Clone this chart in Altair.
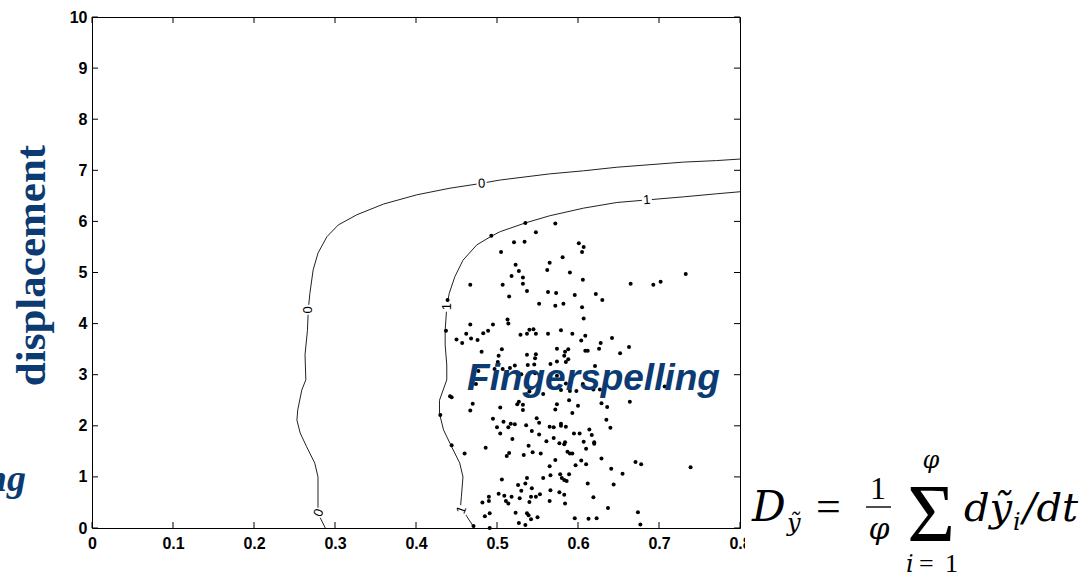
import altair as alt
import pandas as pd

# ---------------- data ----------------
pts_x = [0.535,0.572,0.493,0.548,0.521,0.534,0.601,0.607,0.605,0.505,
         0.581,0.565,0.523,0.562,0.527,0.590,0.518,0.532,0.606,0.467,
         0.507,0.532,0.537,0.563,0.573,0.596,0.515,0.439,0.552,0.572,
         0.582,0.605,0.607,0.513,0.514,0.467,0.495,0.437,0.489,0.483,
         0.462,0.468,0.450,0.457,0.476,0.529,0.537,0.540,0.545,0.548,
         0.563,0.579,0.593,0.609,0.604,0.481,0.506,0.502,0.537,0.548,
         0.547,0.574,0.588,0.584,0.583,0.588,0.585,0.609,0.612,0.501,
         0.522,0.538,0.546,0.566,0.574,0.477,0.516,0.507,0.497,0.530,
         0.547,0.574,
         0.733,0.665,0.693,0.702,0.622,0.630,0.642,0.628,0.626,0.663,0.652,0.621,
         0.474,0.540,0.557,0.579,0.590,0.598,0.585,0.619,0.627,0.707,0.606,
         0.442,0.444,0.470,0.467,0.504,0.527,0.525,0.532,0.532,0.589,
         0.574,0.572,0.600,0.593,0.430,0.495,0.508,0.500,0.504,0.514,
         0.517,0.522,0.536,0.549,0.552,0.543,0.552,0.565,0.570,0.579,
         0.585,0.579,0.570,0.577,0.584,0.583,0.595,0.602,0.607,0.610,
         0.561,0.519,0.539,0.544,0.554,0.587,0.590,0.593,0.444,0.460,
         0.486,0.515,0.512,0.533,0.572,0.597,0.604,0.610,0.565,0.506,
         0.537,0.557,0.566,0.578,0.589,0.580,0.583,0.586,0.612,0.526,
         0.535,0.543,0.530,0.502,0.509,0.518,0.528,0.542,0.548,0.553,
         0.566,0.577,0.583,0.490,0.490,0.482,0.511,0.514,0.540,0.565,
         0.584,0.485,0.491,0.523,0.537,0.539,0.550,0.527,0.542,0.535,
         0.471,0.491,0.596,0.613,
         0.629,0.636,0.664,0.635,0.640,0.614,0.617,0.620,0.620,0.629,
         0.671,0.678,0.739,0.641,0.655,0.644,0.619,0.637,0.674,0.623,0.677]
pts_y = [5.97,5.96,5.72,5.79,5.59,5.60,5.57,5.50,5.40,5.40,
         5.30,5.19,5.15,5.05,5.03,5.00,4.93,4.90,4.86,4.76,
         4.76,4.78,4.64,4.62,4.60,4.56,4.53,4.46,4.39,4.35,
         4.39,4.32,4.10,4.08,4.00,3.98,3.98,3.86,3.86,3.81,
         3.80,3.71,3.69,3.62,3.68,3.78,3.80,3.88,3.89,3.80,
         3.80,3.87,3.80,3.76,3.67,3.45,3.50,3.37,3.39,3.40,
         3.32,3.51,3.50,3.45,3.37,3.30,3.25,3.47,3.47,3.25,
         3.18,3.19,3.20,3.21,3.26,3.07,3.13,3.11,3.11,3.01,
         3.03,2.98,
         4.97,4.78,4.76,4.82,4.58,4.46,3.72,3.62,3.51,3.54,3.42,3.17,
         2.82,2.67,2.62,2.70,2.68,2.68,2.83,2.71,2.71,2.77,2.82,
         2.58,2.56,2.43,2.30,2.36,2.47,2.42,2.41,2.31,2.50,
         2.42,2.32,2.39,2.25,2.21,2.14,2.08,1.97,1.85,1.97,
         2.04,2.03,2.01,2.15,2.06,1.90,1.83,1.98,1.97,2.00,
         1.98,2.04,1.76,1.66,1.68,1.64,1.85,1.85,1.69,1.55,
         1.70,1.74,1.61,1.48,1.46,1.49,1.46,1.46,1.62,1.46,
         1.57,1.47,1.41,1.43,1.33,1.23,1.32,1.25,1.21,0.95,
         0.98,0.98,1.03,1.05,1.05,0.98,0.94,0.92,0.87,0.84,
         0.87,0.78,0.73,0.67,0.63,0.61,0.58,0.61,0.61,0.66,
         0.74,0.70,0.65,0.61,0.53,0.50,0.53,0.48,0.51,0.53,
         0.48,0.23,0.29,0.30,0.29,0.25,0.21,0.10,0.17,0.06,
         0.04,0.00,0.19,0.18,
         2.44,2.37,2.47,2.12,1.96,1.93,1.82,1.68,1.65,1.36,
         1.29,1.25,1.19,1.16,1.06,0.85,0.60,0.39,0.31,0.19,0.07]

c0_x = [0.288,0.279,0.279,0.275,0.265,0.257,0.253,0.254,0.259,0.264,0.263,
        0.266,0.267,0.269,0.273,0.279,0.290,0.304,0.327,0.360,0.401,0.442,
        0.475,0.504,0.565,0.607,0.648,0.689,0.730,0.771,0.800]
c0_y = [0.00,0.29,1.00,1.27,1.59,1.86,2.11,2.31,2.70,2.90,3.39,
        3.87,4.27,4.59,5.05,5.38,5.70,5.93,6.13,6.34,6.52,6.65,
        6.73,6.81,6.93,6.99,7.06,7.11,7.16,7.19,7.22]

c1_x = [0.472,0.463,0.455,0.456,0.458,0.454,0.444,0.434,0.429,0.429,0.438,
        0.438,0.436,0.436,0.438,0.441,0.448,0.458,0.475,0.493,0.504,0.535,
        0.565,0.607,0.648,0.685,0.730,0.771,0.800]
c1_y = [0.00,0.22,0.42,0.61,1.00,1.27,1.59,1.92,2.24,2.50,2.90,
        3.19,3.58,3.87,4.33,4.59,4.92,5.24,5.54,5.71,5.80,5.97,
        6.11,6.26,6.37,6.42,6.48,6.54,6.58]

lab_text = ["0", "0", "0", "1", "1", "1"]
lab_x = [0.481, 0.267, 0.280, 0.685, 0.438, 0.456]
lab_y = [6.74, 4.27, 0.30, 6.42, 4.33, 0.35]
lab_angle = [357, 270, 290, 356, 270, 290]

x_ticks = [0.0, 0.1, 0.2, 0.3, 0.4, 0.5, 0.6, 0.7, 0.8]
y_ticks = [0, 1, 2, 3, 4, 5, 6, 7, 8, 9, 10]

class_label = "Fingerspelling"
class_x = [0.463]
class_y = [2.70]

# ---------------- tables ----------------
assert len(pts_x) == len(pts_y)
pts = pd.DataFrame({"x": pts_x, "y": pts_y})
c0 = pd.DataFrame({"x": c0_x, "y": c0_y, "i": range(len(c0_x))})
c1 = pd.DataFrame({"x": c1_x, "y": c1_y, "i": range(len(c1_x))})
labs = pd.DataFrame({"t": lab_text, "x": lab_x, "y": lab_y, "a": lab_angle})
xt = pd.DataFrame({"v": x_ticks})
yt = pd.DataFrame({"v": y_ticks})
cls = pd.DataFrame({"t": [class_label], "x": class_x, "y": class_y})
one = pd.DataFrame({"a": [0]})

W, H = 648, 511
OX, OY = 92, 17
BLUE = "#0b3b72"
LBL = dict(labelFont="Liberation Sans", labelFontWeight="bold",
           labelFontSize=16, labelColor="black")

xs = alt.Scale(domain=[0, 0.8], nice=False, zero=False)
ys = alt.Scale(domain=[0, 10], nice=False, zero=False)

xaxis = alt.Axis(values=x_ticks, format="~g", title=None, labelPadding=7,
                 labelFlush=False, **LBL)
yaxis = alt.Axis(values=y_ticks, format="d", title="displacement",
                 titleFont="Liberation Serif", titleFontSize=43,
                 titleFontWeight="bold", titleColor=BLUE, titleAngle=270,
                 titleX=-48, titleY=248, titleAlign="center",
                 titleBaseline="alphabetic", labelPadding=5, **LBL)

base_pts = alt.Chart(pts).mark_circle(size=16, color="black", opacity=1).encode(
    x=alt.X("x:Q", scale=xs, axis=xaxis),
    y=alt.Y("y:Q", scale=ys, axis=yaxis),
)

line0 = alt.Chart(c0).mark_line(color="#222222", strokeWidth=1).encode(
    x=alt.X("x:Q", scale=xs), y=alt.Y("y:Q", scale=ys), order="i:Q")
line1 = alt.Chart(c1).mark_line(color="#222222", strokeWidth=1).encode(
    x=alt.X("x:Q", scale=xs), y=alt.Y("y:Q", scale=ys), order="i:Q")

lab_bg = alt.Chart(labs).mark_square(size=100, color="white", opacity=1).encode(
    x=alt.X("x:Q", scale=xs), y=alt.Y("y:Q", scale=ys))
lab_txt = alt.Chart(labs).mark_text(font="Liberation Sans", fontSize=13,
                                     color="black", baseline="middle",
                                     align="center").encode(
    x=alt.X("x:Q", scale=xs), y=alt.Y("y:Q", scale=ys),
    text="t:N", angle=alt.Angle("a:Q", scale=None))

# inward ticks on all four sides
tb = alt.Chart(xt).mark_rule(color="black", strokeWidth=1).encode(
    x=alt.X("v:Q", scale=xs), y=alt.value(H), y2=alt.value(H - 6))
tt = alt.Chart(xt).mark_rule(color="black", strokeWidth=1).encode(
    x=alt.X("v:Q", scale=xs), y=alt.value(0), y2=alt.value(6))
tl = alt.Chart(yt).mark_rule(color="black", strokeWidth=1).encode(
    y=alt.Y("v:Q", scale=ys), x=alt.value(0), x2=alt.value(6))
tr = alt.Chart(yt).mark_rule(color="black", strokeWidth=1).encode(
    y=alt.Y("v:Q", scale=ys), x=alt.value(W), x2=alt.value(W - 6))

cls_txt = alt.Chart(cls).mark_text(font="Liberation Sans", fontSize=37,
                                    fontWeight="bold", fontStyle="italic",
                                    color=BLUE, align="left",
                                    baseline="alphabetic").encode(
    x=alt.X("x:Q", scale=xs), y=alt.Y("y:Q", scale=ys), text="t:N")


def txt(s, x, y, size, style="normal", weight="normal",
        font="Liberation Serif", align="left", color="black"):
    return alt.Chart(one).mark_text(
        text=s, fontSize=size, fontStyle=style, fontWeight=weight, font=font,
        align=align, baseline="alphabetic", color=color).encode(
        x=alt.value(x - OX), y=alt.value(y - OY))


ng = txt("ng", 26, 491, 38, style="italic", weight="bold", align="right",
         color=BLUE)

cover = alt.Chart(one).mark_rect(color="white").encode(
    x=alt.value(745 - OX), x2=alt.value(1091 - OX),
    y=alt.value(440 - OY), y2=alt.value(579 - OY))

MF = "DejaVu Serif"
B = 521
formula = [
    txt("D", 752, B, 42, style="italic", font=MF),
    txt("ỹ", 787, B + 10, 24, style="italic", font=MF),
    txt("=", 816, B, 44),
    txt("1", 878, 499, 32, align="center"),
    alt.Chart(one).mark_rule(color="black", strokeWidth=1.4).encode(
        x=alt.value(866 - OX), x2=alt.value(891 - OX),
        y=alt.value(507 - OY)),
    txt("φ", 879, 539, 30, style="italic", font=MF, align="center"),
    txt("Σ", 931, 541, 82, align="center"),
    txt("φ", 931, 468, 24, style="italic", font=MF, align="center"),
    txt("i", 906, 572, 24, style="italic", font=MF),
    txt("=", 919, 572, 26),
    txt("1", 945, 572, 26),
    txt("dỹ", 964, B, 40, style="italic", font=MF),
    txt("i", 1013, B + 9, 24, style="italic", font=MF),
    txt("/dt", 1023, B, 40, style="italic", font=MF),
]

chart = alt.layer(
    line0, line1, lab_bg, lab_txt, base_pts,
    tb, tt, tl, tr, cls_txt, ng, cover, *formula,
).properties(
    width=W, height=H,
    autosize=alt.AutoSizeParams(type="none"),
    padding={"left": OX, "top": OY, "right": 1091 - OX - W,
             "bottom": 579 - OY - H},
    background="white",
).configure_view(
    stroke="black", strokeWidth=1
).configure_axis(
    ticks=False, domain=False, grid=False,
)

chart.save("out.html", embed_options={"renderer": "svg", "actions": False})
